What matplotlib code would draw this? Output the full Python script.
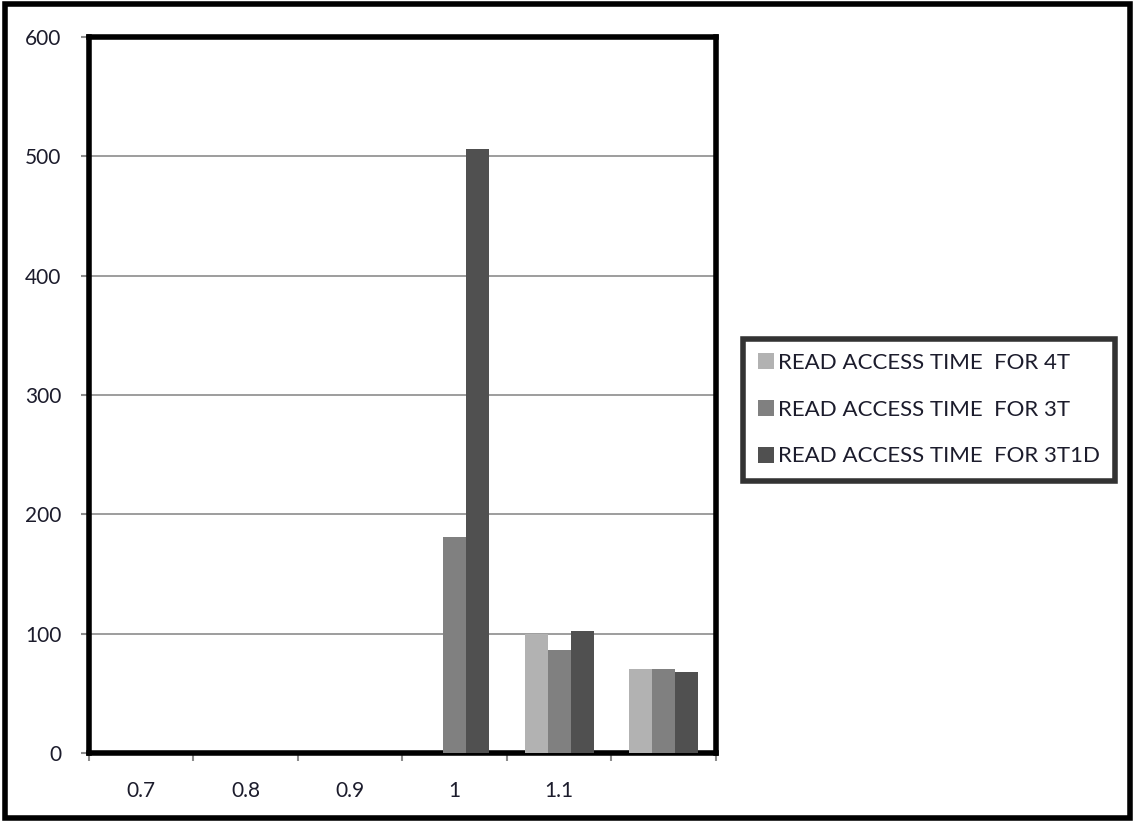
import numpy as np
import matplotlib.pyplot as plt
from matplotlib.patches import Rectangle

categories = ['0.7', '0.8', '0.9', '1', '1.1', '']
series_names = ['READ ACCESS TIME  FOR 4T', 'READ ACCESS TIME  FOR 3T', 'READ ACCESS TIME  FOR 3T1D']
t_4t = [0, 0, 0, 0, 100, 70]
t_3t = [0, 0, 0, 181, 86, 70]
t_3t1d = [0, 0, 0, 506, 102, 68]
colors = ['#b2b2b2', '#808080', '#505050']

plt.rcParams['font.family'] = ['Lato', 'DejaVu Sans']

fig = plt.figure(figsize=(11.35, 8.22), dpi=100)
ax = fig.add_axes([0.0784, 0.0839, 0.5524, 0.8711])

x = np.arange(len(categories))
width = 0.22
for i, (vals, name) in enumerate(zip([t_4t, t_3t, t_3t1d], series_names)):
    ax.bar(x + (i - 1) * width, vals, width, color=colors[i], label=name, zorder=3)

ax.set_xlim(-0.5, len(categories) - 0.5)
ax.set_ylim(0, 600)
ax.set_yticks(np.arange(0, 601, 100))
ax.yaxis.grid(True, color='#8c8c8c', linewidth=1.2, zorder=0)

# ticks between categories, labels at the centres
ax.set_xticks(np.arange(-0.5, len(categories), 1.0))
ax.set_xticklabels([])
ax.set_xticks(x, minor=True)
ax.set_xticklabels(categories, minor=True)
ax.tick_params(axis='x', which='major', length=6, width=1.5, color='#8c8c8c', direction='out')
ax.tick_params(axis='x', which='minor', length=0, pad=20, labelsize=15, labelcolor='#1c1c2c')
ax.tick_params(axis='y', length=6, width=1.5, color='#8c8c8c', pad=14, labelsize=15, labelcolor='#1c1c2c')

for side in ['left', 'right', 'top', 'bottom']:
    ax.spines[side].set_linewidth(4)
    ax.spines[side].set_color('black')

leg = fig.legend(loc='upper left', bbox_to_anchor=(0.655, 0.588), bbox_transform=fig.transFigure,
                 borderaxespad=0, fontsize=16, labelspacing=1.2,
                 handlelength=0.72, handleheight=0.72, handletextpad=0.2, borderpad=0.65,
                 fancybox=False, frameon=True)
leg.get_frame().set_edgecolor('black')
leg.get_frame().set_linewidth(4)
for t in leg.get_texts():
    t.set_color('#1c1c2c')

fig.patches.append(Rectangle((0.004, 0.005), 0.992, 0.99, transform=fig.transFigure,
                             fill=False, edgecolor='black', linewidth=4))

fig.savefig('out.png', dpi=100)
